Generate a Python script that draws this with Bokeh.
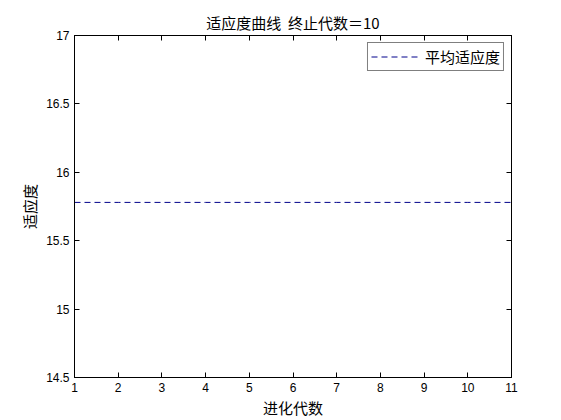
from bokeh.plotting import figure
from bokeh.models import LinearAxis, FixedTicker, Range1d, Legend, LegendItem
from bokeh.embed import file_html
from bokeh.resources import INLINE

# ---- data ----
generations = [1, 2, 3, 4, 5, 6, 7, 8, 9, 10, 11]
average_fitness = [15.78, 15.78, 15.78, 15.78, 15.78, 15.78, 15.78, 15.78, 15.78, 15.78, 15.78]
x_ticks = [1, 2, 3, 4, 5, 6, 7, 8, 9, 10, 11]
y_ticks = [14.5, 15, 15.5, 16, 16.5, 17]
y_tick_labels = ["14.5", "15", "15.5", "16", "16.5", "17"]
title_text = "适应度曲线\u00a0\u00a0终止代数＝10"
x_label = "进化代数"
y_label = "适应度"
legend_label = "平均适应度"

CJK = "Noto Sans CJK SC"
NUM = "Liberation Sans"

p = figure(width=561, height=420, output_backend="svg", toolbar_location=None,
           x_range=Range1d(1, 11), y_range=Range1d(14.5, 17),
           min_border_left=74, min_border_right=50, min_border_top=35, min_border_bottom=43,
           x_axis_label=x_label, y_axis_label=y_label)

p.title.text = title_text
p.title.align = "center"
p.title.text_font = CJK
p.title.text_font_size = "15px"
p.title.text_font_style = "normal"
p.title.text_color = "black"
p.title.standoff = 6

p.grid.visible = False
p.outline_line_color = "black"
p.outline_line_width = 1
p.background_fill_color = "white"
p.border_fill_color = "white"

def style_axis(ax, ticks, labels=True):
    ax.axis_line_color = "black"
    ax.major_tick_line_color = "black"
    ax.major_tick_in = 5
    ax.major_tick_out = 0
    ax.minor_tick_line_color = None
    ax.major_label_text_font = NUM
    ax.major_label_text_font_size = "12px"
    ax.major_label_text_color = "black"
    ax.major_label_standoff = 5 if labels else 0
    if not labels:
        ax.major_label_overrides = {t: "" for t in ticks}
    ax.axis_label_text_font = CJK
    ax.axis_label_text_font_size = "15px"
    ax.axis_label_text_font_style = "normal"
    ax.axis_label_text_color = "black"

p.xaxis.ticker = FixedTicker(ticks=x_ticks)
p.yaxis.ticker = FixedTicker(ticks=y_ticks)
style_axis(p.xaxis[0], x_ticks)
style_axis(p.yaxis[0], y_ticks)
p.yaxis.major_label_overrides = {t: l for t, l in zip(y_ticks, y_tick_labels)}
p.xaxis.axis_label_standoff = 2
p.yaxis.axis_label_standoff = 3

top_ax = LinearAxis(ticker=FixedTicker(ticks=x_ticks))
style_axis(top_ax, x_ticks, labels=False)
p.add_layout(top_ax, "above")
right_ax = LinearAxis(ticker=FixedTicker(ticks=y_ticks))
style_axis(right_ax, y_ticks, labels=False)
p.add_layout(right_ax, "right")

r = p.line(generations, average_fitness, line_color="#00008b", line_width=1, line_dash="6 4")

legend = Legend(items=[LegendItem(label=legend_label, renderers=[r])],
                location="top_right", margin=7, padding=3, spacing=0,
                glyph_width=48, glyph_height=15, label_height=15, label_standoff=6,
                label_text_font=CJK, label_text_font_size="15px", label_text_color="black",
                border_line_color="black", border_line_width=1,
                background_fill_color="white", background_fill_alpha=1)
p.add_layout(legend, "center")

open("out.html", "w").write(file_html(p, INLINE))
